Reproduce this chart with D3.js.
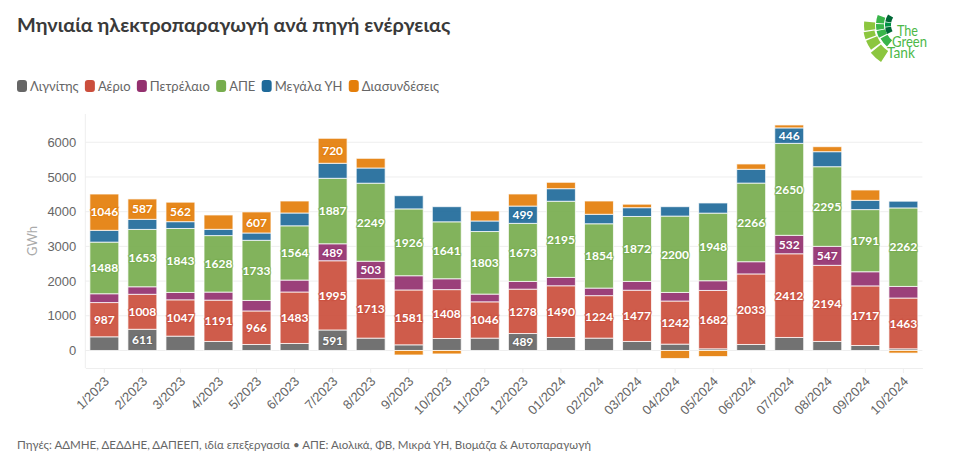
<!DOCTYPE html>
<html>
<head>
<meta charset="utf-8">
<script src="https://cdn.jsdelivr.net/npm/d3@7"></script>
<style>
  html, body { margin: 0; padding: 0; background: #fff; }
  svg { display: block; font-family: Lato, "Noto Sans", sans-serif; }
</style>
</head>
<body>
<svg id="chart" width="965" height="471"></svg>
<script>
var months = ["1/2023","2/2023","3/2023","4/2023","5/2023","6/2023","7/2023","8/2023","9/2023","10/2023","11/2023","12/2023",
  "01/2024","02/2024","03/2024","04/2024","05/2024","06/2024","07/2024","08/2024","09/2024","10/2024"];

var lignite = [394,611,413,260,173,202,591,356,163,346,356,489,375,356,260,183,48,173,375,260,144,48];
var gas     = [987,1008,1047,1191,966,1483,1995,1713,1581,1408,1046,1278,1490,1224,1477,1242,1682,2033,2412,2194,1717,1463];
var oil     = [254,217,213,232,303,344,489,503,410,313,223,223,241,218,253,248,280,352,532,547,408,335];
var res     = [1488,1653,1843,1628,1733,1564,1887,2249,1926,1641,1803,1673,2195,1854,1872,2200,1948,2266,2650,2295,1791,2262];
var hydro   = [340,291,196,181,211,369,433,438,381,436,304,499,362,273,253,271,293,398,446,433,268,194];
var imports = [1046,587,562,413,607,346,720,279,-130,-100,288,348,184,383,101,-230,-175,153,84,144,297,-75];

var seriesNames = ["Λιγνίτης","Αέριο","Πετρέλαιο","ΑΠΕ","Μεγάλα ΥΗ","Διασυνδέσεις"];
var seriesValues = [lignite, gas, oil, res, hydro, imports];
var colors = ["#666666","#cb4e3c","#93306f","#77ad4e","#1f6a9a","#e47e0a"];
var yTicks = [0,1000,2000,3000,4000,5000,6000];
var labelMin = 440; // smaller segments get no number

var svg = d3.select("#chart");

svg.append("text").attr("x", 17).attr("y", 32)
  .style("font-size", "19.9px").style("font-weight", 700).style("fill", "#3a3a3a")
  .text("Μηνιαία ηλεκτροπαραγωγή ανά πηγή ενέργειας");

// legend, laid out from the text widths
var legendX = 17;
seriesNames.forEach(function (name, i) {
  var g = svg.append("g").attr("transform", "translate(" + legendX + ",80)");
  g.append("rect").attr("width", 10).attr("height", 12).attr("rx", 3).attr("fill", colors[i]);
  var t = g.append("text").attr("x", 13).attr("y", 11)
    .style("font-size", "13px").style("fill", "#666").text(name);
  legendX += 13 + t.node().getComputedTextLength() + 6.3;
});

var x = d3.scaleBand().domain(months).range([85.3, 922.4]).paddingInner(0.24).paddingOuter(0.12);
var y = d3.scaleLinear().domain([-505, 6815]).range([368, 114]);

// grid and frame
svg.append("g").selectAll("line").data(yTicks).join("line")
  .attr("x1", 85.3).attr("x2", 922.4)
  .attr("y1", function (d) { return y(d); }).attr("y2", function (d) { return y(d); })
  .attr("stroke", "#eeeeee").attr("stroke-width", 1);
svg.append("line").attr("x1", 85.3).attr("x2", 85.3).attr("y1", 114).attr("y2", 368).attr("stroke", "#eeeeee");

var yAxis = svg.append("g").attr("transform", "translate(85.3,0)")
  .call(d3.axisLeft(y).tickValues(yTicks).tickSize(0).tickPadding(9).tickFormat(d3.format("d")));
yAxis.select(".domain").remove();
yAxis.selectAll("text").style("font-size", "13px").style("font-family", "inherit").style("fill", "#666");

var xAxis = svg.append("g").attr("transform", "translate(0,368)")
  .call(d3.axisBottom(x).tickSize(5).tickSizeOuter(0));
xAxis.select(".domain").attr("stroke", "#eeeeee");
xAxis.selectAll("line").attr("stroke", "#eeeeee");
xAxis.selectAll("text")
  .style("font-size", "13px").style("font-family", "inherit").style("fill", "#666")
  .style("text-anchor", "end")
  .attr("dx", "-6px").attr("dy", "6px")
  .attr("transform", "rotate(-45)");

svg.append("text").attr("transform", "translate(37,241) rotate(-90)")
  .style("font-size", "13px").style("fill", "#aaa").style("text-anchor", "middle").text("GWh");

// stacked bars
var rows = months.map(function (m, i) {
  var row = { month: m };
  seriesNames.forEach(function (name, s) { row[name] = seriesValues[s][i]; });
  return row;
});
var stacked = d3.stack().keys(seriesNames).offset(d3.stackOffsetDiverging)(rows);

var layers = svg.append("g").selectAll("g").data(stacked).join("g");
layers.selectAll("rect").data(function (d) { return d; }).join("rect")
  .attr("x", function (d) { return x(d.data.month); })
  .attr("width", x.bandwidth())
  .attr("y", function (d) { return y(d[1]); })
  .attr("height", function (d) { return y(d[0]) - y(d[1]); })
  .attr("fill", function (d) { return colors[seriesNames.indexOf(d3.select(this.parentNode).datum().key)]; })
  .attr("fill-opacity", 0.92)
  .attr("stroke", "#fff").attr("stroke-opacity", 0.75).attr("stroke-width", 1);

layers.each(function (layer, s) {
  d3.select(this).selectAll("text")
    .data(layer.filter(function (d) { return Math.abs(d[1] - d[0]) >= labelMin; }))
    .join("text")
    .attr("x", function (d) { return x(d.data.month) + x.bandwidth() / 2; })
    .attr("y", function (d) { return y((d[0] + d[1]) / 2); })
    .attr("dy", "0.36em")
    .style("text-anchor", "middle").style("font-size", "12px").style("font-weight", 700)
    .style("fill", "#fff").style("paint-order", "stroke")
    .style("stroke", colors[s]).style("stroke-width", "2.5px").style("stroke-opacity", 0.6)
    .text(function (d) { return d[1] - d[0]; });
});

svg.append("text").attr("x", 17).attr("y", 448.5)
  .style("font-size", "11.55px").style("fill", "#666")
  .text("Πηγές: ΑΔΜΗΕ, ΔΕΔΔΗΕ, ΔΑΠΕΕΠ, ιδία επεξεργασία • ΑΠΕ: Αιολικά, ΦΒ, Μικρά ΥΗ, Βιομάζα & Αυτοπαραγωγή");

// logo
var logoTiles = [
  [30,41,-98,-85,"#8cc63f"],[31,42,-110,-100,"#8cc63f"],[30,42,-126,-112,"#8cc63f"],[31,44,-147,-129,"#8cc63f"],
  [21,29,-86,-70,"#39b54a"],[21,29,-100,-88,"#39b54a"],[20,29,-116,-102,"#39b54a"],[20,28,-140,-119,"#39b54a"],
  [14,20,-80,-58,"#006837"],[14,20,-95,-82,"#009245"],[14,20,-117,-97,"#006837"]
];
var logoArc = d3.arc();
svg.append("g").attr("transform", "translate(905,25)").selectAll("path").data(logoTiles).join("path")
  .attr("d", function (d) {
    return logoArc({ innerRadius: d[0], outerRadius: d[1], startAngle: d[2] * Math.PI / 180, endAngle: d[3] * Math.PI / 180 });
  })
  .attr("fill", function (d) { return d[4]; });
[["The",897,36,21],["Green",892,47,35],["Tank",887,58,28]].forEach(function (w) {
  svg.append("text").attr("x", w[1]).attr("y", w[2]).attr("textLength", w[3]).attr("lengthAdjust", "spacingAndGlyphs")
    .style("font-size", "15px").style("fill", "#4cb848").text(w[0]);
});
</script>
</body>
</html>
